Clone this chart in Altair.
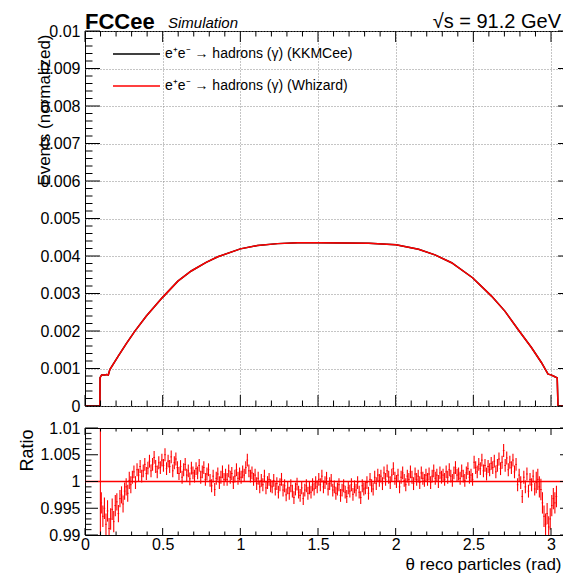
import altair as alt
import numpy as np
import pandas as pd

W = 488
H_TOP = 375
H_BOT = 107
XMAX = 3.1416
RED = "#ff0000"
FONT = "Liberation Sans"

# ---------------- top panel data ----------------
theta_top = [0.0, 0.096, 0.097, 0.107, 0.128, 0.140, 0.150, 0.160, 0.214, 0.267,
             0.320, 0.395, 0.498, 0.598, 0.684, 0.780, 0.855, 1.000, 1.110, 1.240,
             1.370, 1.506, 1.827, 2.002, 2.147, 2.253, 2.360, 2.495, 2.617, 2.703,
             2.788, 2.874, 2.938, 2.981, 3.000, 3.025, 3.040, 3.045, 3.1416]
events_kkmcee = [0, 0, 0.000756, 0.000827, 0.000827, 0.00084, 0.000827, 0.00097, 0.00133, 0.00167,
                 0.00199, 0.00240, 0.00289, 0.00333, 0.00360, 0.00383, 0.00398, 0.00419, 0.00428, 0.00433,
                 0.004355, 0.004356, 0.00434, 0.00430, 0.00418, 0.00403, 0.00382, 0.00342, 0.00293, 0.00253,
                 0.00204, 0.00156, 0.00116, 0.00085, 0.00083, 0.00078, 0.00075, 0, 0]
events_whizard = [0, 0, 0.000756, 0.000827, 0.000827, 0.00084, 0.000827, 0.00097, 0.00133, 0.00167,
                  0.00199, 0.00240, 0.00289, 0.00333, 0.00360, 0.00383, 0.00398, 0.00419, 0.00428, 0.00433,
                  0.004355, 0.004356, 0.00434, 0.00430, 0.00418, 0.00403, 0.00382, 0.00342, 0.00293, 0.00253,
                  0.00204, 0.00156, 0.00116, 0.00085, 0.00083, 0.00078, 0.00075, 0, 0]

# ---------------- ratio panel data ----------------
ratio_first_bin = 0.099
ratio_first_val = 1.0
ratio_first_err = 0.02
ratio_start = 0.105
ratio_step = 0.01
ratio_vals = [
    0.9960, 0.9935, 0.9950, 0.9920, 0.9945, 0.9912, 0.9930, 0.9948, 0.9925, 0.9955,
    0.9962, 0.9940, 0.9968, 0.9975, 0.9958, 0.9982, 0.9990, 0.9978, 1.0002, 0.9994,
    1.0008, 1.0018, 0.9998, 1.0022, 1.0012, 1.0028, 1.0010, 1.0020, 1.0032, 1.0015,
    1.0025, 1.0038, 1.0020, 1.0032, 1.0045, 1.0028, 1.0018, 1.0035, 1.0026, 1.0040,
    1.0030, 1.0050, 1.0024, 1.0038, 1.0028, 1.0046, 1.0020, 1.0035, 1.0042, 1.0026,
    1.0015, 1.0028, 1.0008, 1.0022, 1.0032, 1.0012, 1.0020, 1.0005, 1.0025, 1.0016,
    1.0010, 1.0024, 1.0016, 1.0030, 1.0008, 1.0018, 1.0026, 1.0004, 1.0014, 1.0022,
    1.0002, 0.9992, 1.0010, 0.9985, 1.0006, 1.0014, 0.9998, 1.0008, 1.0018, 1.0004,
    1.0012, 1.0004, 1.0020, 1.0008, 1.0015, 0.9998, 1.0010, 1.0022, 1.0006, 1.0014,
    1.0008, 1.0018, 1.0012, 1.0026, 1.0040, 1.0020, 1.0010, 1.0016, 1.0004, 1.0012,
    0.9996, 1.0006, 0.9990, 1.0002, 0.9994, 1.0010, 0.9988, 0.9998, 1.0004, 0.9992,
    0.9990, 1.0002, 0.9986, 0.9996, 0.9980, 0.9994, 1.0004, 0.9984, 0.9992, 0.9975,
    0.9988, 0.9978, 0.9992, 0.9982, 0.9970, 0.9986, 0.9995, 0.9980, 0.9974, 0.9988,
    0.9968, 0.9984, 0.9992, 0.9978, 0.9988, 0.9980, 0.9994, 0.9986, 0.9998, 0.9990,
    1.0004, 0.9994, 1.0010, 0.9990, 0.9998, 1.0006, 0.9986, 0.9996, 1.0002, 0.9984,
    0.9990, 0.9978, 0.9986, 0.9994, 0.9974, 0.9984, 0.9992, 0.9980, 0.9972, 0.9988,
    0.9982, 0.9994, 0.9976, 0.9990, 0.9984, 0.9998, 0.9980, 0.9970, 0.9992, 0.9986,
    0.9988, 0.9998, 0.9978, 1.0004, 0.9992, 0.9986, 1.0008, 0.9996, 1.0012, 1.0002,
    1.0010, 0.9996, 1.0016, 1.0004, 1.0020, 1.0008, 0.9998, 1.0012, 1.0024, 1.0006,
    1.0000, 1.0012, 0.9990, 1.0008, 1.0016, 1.0002, 0.9994, 1.0010, 1.0004, 1.0018,
    1.0008, 0.9996, 1.0014, 1.0004, 1.0010, 0.9998, 1.0016, 1.0006, 1.0002, 1.0012,
    1.0004, 1.0014, 0.9998, 1.0010, 1.0020, 1.0006, 1.0012, 1.0000, 1.0016, 1.0008,
    1.0012, 1.0004, 1.0018, 1.0008, 1.0022, 1.0010, 1.0002, 1.0016, 1.0026, 1.0012,
    1.0014, 1.0006, 1.0020, 1.0010, 1.0002, 1.0016, 1.0024, 1.0008, 1.0012, 1.0004,
    1.0036, 1.0026, 1.0018, 1.0032, 1.0024, 1.0040, 1.0020, 1.0030, 1.0014, 1.0028,
    1.0022, 1.0034, 1.0026, 1.0038, 1.0018, 1.0030, 1.0042, 1.0024, 1.0036, 1.0058,
    1.0030, 1.0044, 1.0022, 1.0036, 1.0026, 1.0040, 1.0018, 1.0032, 0.9994, 1.0012,
    0.9998, 0.9972, 1.0008, 0.9990, 1.0014, 0.9982, 1.0004, 0.9994, 1.0010, 0.9986,
    0.9998, 1.0004, 0.9990, 0.9985, 0.9960, 0.9935, 0.9920, 0.9940, 0.9915, 0.9930,
    0.9955, 0.9968, 0.9960, 0.9972,
]
ratio_err = ([0.0020] * 10 + [0.0016] * 10 + [0.0012] * 260 + [0.0020] * 14)

# ---------------- axis tick labels ----------------
x_major = [0, 0.5, 1, 1.5, 2, 2.5, 3]
x_grid = [0.5, 1, 1.5, 2, 2.5, 3]
y_top_major = [0, 0.001, 0.002, 0.003, 0.004, 0.005, 0.006, 0.007, 0.008, 0.009, 0.01]
y_bot_major = [0.99, 0.995, 1.0, 1.005, 1.01]

x_minor = [round(v, 2) for v in np.arange(0.1, 3.15, 0.1) if abs(v * 2 - round(v * 2)) > 1e-6]
y_top_minor = [round(v, 5) for v in np.arange(0.0002, 0.01, 0.0002) if abs(v * 1000 - round(v * 1000)) > 1e-6]
y_bot_minor = [round(v, 4) for v in np.arange(0.991, 1.0095, 0.001) if abs(v * 200 - round(v * 200)) > 1e-6]

# ---------------- scales & axes ----------------
xs = alt.Scale(domain=[0, XMAX], nice=False, zero=False)
ys_top = alt.Scale(domain=[0, 0.01], nice=False, zero=False)
ys_bot = alt.Scale(domain=[0.99, 1.01], nice=False, zero=False)

ax_top_x = alt.Axis(values=x_grid, labels=False, ticks=False, domain=False, grid=True,
                    gridColor="#8a8a8a", gridDash=[1, 2], gridWidth=1, title=None)
ax_top_y = alt.Axis(values=y_top_major, format="~g", ticks=False, domain=False, grid=True,
                    gridColor="#8a8a8a", gridDash=[1, 2], gridWidth=1,
                    labelFontSize=16, labelPadding=5, labelFlush=False, labelOverlap=False,
                    title="Events (normalized)", titleFontSize=17, titleFontWeight="normal",
                    titleX=-41, titleY=3, titleAlign="right", titleBaseline="middle", titleAngle=270)
ax_bot_x = alt.Axis(values=x_major, format="~g", ticks=False, domain=False, grid=False,
                    labelFontSize=16, labelPadding=1, labelFlush=False, labelOverlap=False,
                    title="θ reco particles (rad)", titleFontSize=17, titleFontWeight="normal",
                    titleX=W - 12, titleY=34, titleAlign="right", titleBaseline="alphabetic")
ax_bot_y = alt.Axis(values=y_bot_major, format="~g", ticks=False, domain=False, grid=False,
                    labelFontSize=16, labelPadding=5, labelFlush=False, labelOverlap=False,
                    title="Ratio", titleFontSize=18, titleFontWeight="normal",
                    titleX=-58, titleY=1, titleAlign="right", titleBaseline="middle", titleAngle=270)


def tick_layers(xvals_major, xvals_minor, yvals_major, yvals_minor, h, xlen, ylen, ys, axx, axy):
    layers = []
    for vals, ln in ((xvals_major, xlen), (xvals_minor, xlen / 2)):
        d = pd.DataFrame({"x": vals})
        base = alt.Chart(d).mark_rule(color="black", strokeWidth=1)
        layers.append(base.encode(x=alt.X("x:Q", scale=xs, axis=axx), y=alt.value(h), y2=alt.value(h - ln)))
        layers.append(base.encode(x=alt.X("x:Q", scale=xs, axis=axx), y=alt.value(0), y2=alt.value(ln)))
    for vals, ln in ((yvals_major, ylen), (yvals_minor, ylen / 2)):
        d = pd.DataFrame({"y": vals})
        base = alt.Chart(d).mark_rule(color="black", strokeWidth=1)
        layers.append(base.encode(y=alt.Y("y:Q", scale=ys, axis=axy), x=alt.value(0), x2=alt.value(ln)))
        layers.append(base.encode(y=alt.Y("y:Q", scale=ys, axis=axy), x=alt.value(W), x2=alt.value(W - ln)))
    return layers


# ---------------- top panel ----------------
top_df = pd.DataFrame({"x": theta_top, "kk": events_kkmcee, "wz": events_whizard})
line_kk = alt.Chart(top_df).mark_line(color="black", strokeWidth=1.5, clip=True).encode(
    x=alt.X("x:Q", scale=xs, axis=ax_top_x), y=alt.Y("kk:Q", scale=ys_top, axis=ax_top_y))
line_wz = alt.Chart(top_df).mark_line(color=RED, strokeWidth=1.5, clip=True).encode(
    x=alt.X("x:Q", scale=xs, axis=ax_top_x), y=alt.Y("wz:Q", scale=ys_top, axis=ax_top_y))

one = pd.DataFrame({"a": [0]})
hdr_fcc = alt.Chart(one).mark_text(text="FCCee", font=FONT, fontSize=22, fontWeight="bold",
                                   align="left", baseline="alphabetic", color="black").encode(
    x=alt.value(0), y=alt.value(-2))
hdr_sim = alt.Chart(one).mark_text(text="Simulation", font=FONT, fontSize=15, fontStyle="italic",
                                   align="left", baseline="alphabetic", color="black").encode(
    x=alt.value(83), y=alt.value(-3))
hdr_sqrt = alt.Chart(one).mark_text(text="√s = 91.2 GeV", font=FONT, fontSize=20,
                                    align="right", baseline="alphabetic", color="black").encode(
    x=alt.value(W - 12), y=alt.value(-3))

leg_kk_line = alt.Chart(one).mark_rule(color="black", strokeWidth=1.5).encode(
    x=alt.value(28), x2=alt.value(75), y=alt.value(23))
leg_wz_line = alt.Chart(one).mark_rule(color=RED, strokeWidth=1.5).encode(
    x=alt.value(28), x2=alt.value(75), y=alt.value(55))
leg_kk_text = alt.Chart(one).mark_text(text="e⁺e⁻ → hadrons (γ) (KKMCee)", font=FONT, fontSize=14,
                                       align="left", baseline="middle", color="black").encode(
    x=alt.value(80), y=alt.value(23))
leg_wz_text = alt.Chart(one).mark_text(text="e⁺e⁻ → hadrons (γ) (Whizard)", font=FONT, fontSize=14,
                                       align="left", baseline="middle", color="black").encode(
    x=alt.value(80), y=alt.value(55))

top = alt.layer(
    line_kk, line_wz,
    *tick_layers(x_major, x_minor, y_top_major, y_top_minor, H_TOP, 11, 15, ys_top, ax_top_x, ax_top_y),
    hdr_fcc, hdr_sim, hdr_sqrt, leg_kk_line, leg_wz_line, leg_kk_text, leg_wz_text,
).properties(width=W, height=H_TOP)

# ---------------- ratio panel ----------------
n = len(ratio_vals)
centers = [ratio_first_bin] + [round(ratio_start + ratio_step * i, 4) for i in range(n)]
vals = [ratio_first_val] + ratio_vals
errs = [ratio_first_err] + ratio_err
half = [0.002] + [ratio_step / 2] * n
rdf = pd.DataFrame({
    "x": centers,
    "y": vals,
    "lo": [v - e for v, e in zip(vals, errs)],
    "hi": [v + e for v, e in zip(vals, errs)],
    "xl": [c - h for c, h in zip(centers, half)],
    "xh": [c + h for c, h in zip(centers, half)],
})

unity = alt.Chart(pd.DataFrame({"y": [1.0]})).mark_rule(color=RED, strokeWidth=1.5).encode(
    y=alt.Y("y:Q", scale=ys_bot, axis=ax_bot_y), x=alt.value(0), x2=alt.value(W))
ebars = alt.Chart(rdf).mark_rule(color=RED, strokeWidth=1.1, clip=True).encode(
    x=alt.X("x:Q", scale=xs, axis=ax_bot_x), y=alt.Y("lo:Q", scale=ys_bot, axis=ax_bot_y), y2="hi:Q")
hbars = alt.Chart(rdf).mark_rule(color=RED, strokeWidth=1, clip=True).encode(
    x=alt.X("xl:Q", scale=xs, axis=ax_bot_x), x2="xh:Q", y=alt.Y("y:Q", scale=ys_bot, axis=ax_bot_y))

bottom = alt.layer(
    unity, ebars, hbars,
    *tick_layers(x_major, x_minor, y_bot_major, y_bot_minor, H_BOT, 7, 13, ys_bot, ax_bot_x, ax_bot_y),
).properties(width=W, height=H_BOT)

chart = alt.vconcat(top, bottom, spacing=4).properties(
    padding={"left": 9, "top": 2, "right": -12, "bottom": 0}
).configure(
    background="white",
).configure_view(
    stroke="black", strokeWidth=1
).configure_axis(
    labelFont=FONT, titleFont=FONT, labelColor="black", titleColor="black"
)

chart.save("out.html", embed_options={"renderer": "svg", "actions": False})
